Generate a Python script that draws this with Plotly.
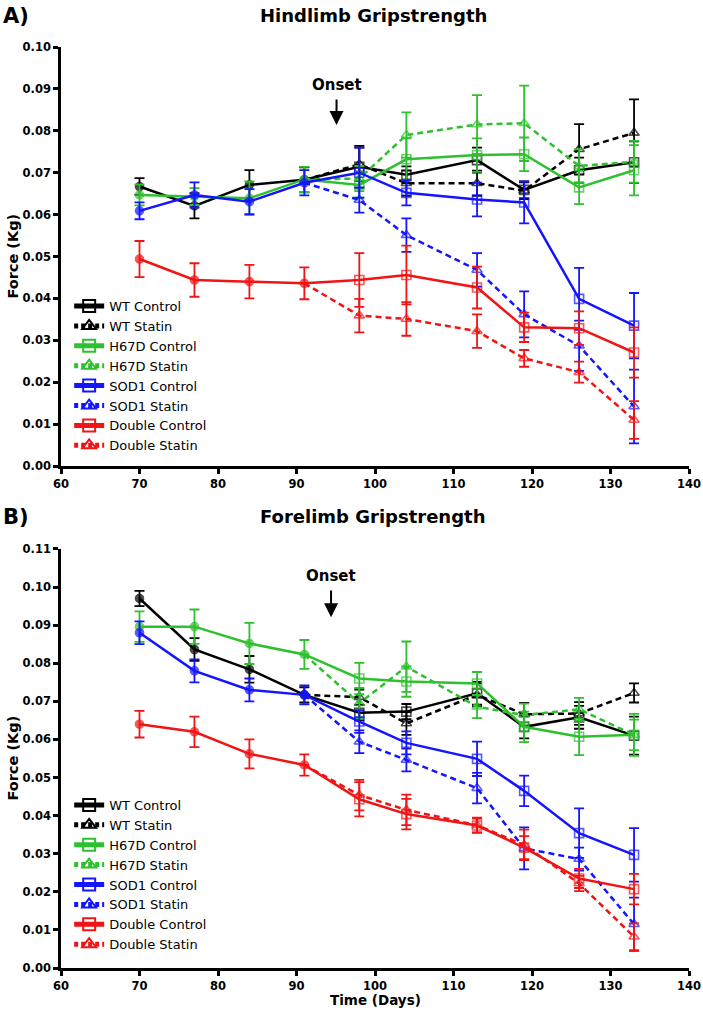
import plotly.graph_objects as go

# ---------------- data ----------------
days = [70, 77, 84, 91, 98, 104, 113, 119, 126, 133]
statin_days = [91, 98, 104, 113, 119, 126, 133]

groups = ["WT", "H67D", "SOD1", "Double"]
colors = {"WT": "#000000", "H67D": "#2ec02e", "SOD1": "#1414ff", "Double": "#f01414"}

# Hindlimb (panel A)
hind_wt_ctrl = [0.0667, 0.0621, 0.0671, 0.0683, 0.0714, 0.0695, 0.0730, 0.0659, 0.0706, 0.0725]
hind_wt_ctrl_err = [0.002, 0.003, 0.0035, 0.003, 0.005, 0.002, 0.003, 0.002, 0.003, 0.005]
hind_wt_stat = [0.0720, 0.0675, 0.0675, 0.0657, 0.0756, 0.0795]
hind_wt_stat_err = [0.004, 0.003, 0.003, 0.002, 0.006, 0.008]

hind_h67d_ctrl = [0.0647, 0.0643, 0.0639, 0.0684, 0.0671, 0.0732, 0.0742, 0.0744, 0.0665, 0.0706]
hind_h67d_ctrl_err = [0.0025, 0.002, 0.004, 0.003, 0.003, 0.005, 0.004, 0.004, 0.004, 0.006]
hind_h67d_stat = [0.0686, 0.0790, 0.0815, 0.0818, 0.0716, 0.0726]
hind_h67d_stat_err = [0.003, 0.0054, 0.007, 0.009, 0.004, 0.005]

hind_sod_ctrl = [0.0609, 0.0647, 0.0631, 0.0676, 0.0700, 0.0652, 0.0636, 0.0629, 0.0399, 0.0335]
hind_sod_ctrl_err = [0.002, 0.003, 0.003, 0.003, 0.006, 0.003, 0.004, 0.005, 0.0074, 0.0078]
hind_sod_stat = [0.0635, 0.0551, 0.0468, 0.0362, 0.0287, 0.0142]
hind_sod_stat_err = [0.003, 0.004, 0.004, 0.0055, 0.006, 0.0088]

hind_dbl_ctrl = [0.0494, 0.0444, 0.0440, 0.0436, 0.0444, 0.0456, 0.0426, 0.0331, 0.0329, 0.0271]
hind_dbl_ctrl_err = [0.0043, 0.004, 0.004, 0.0038, 0.0064, 0.007, 0.005, 0.0035, 0.004, 0.006]
hind_dbl_stat = [0.0359, 0.0351, 0.0322, 0.0257, 0.0224, 0.0110]
hind_dbl_stat_err = [0.004, 0.004, 0.004, 0.002, 0.0025, 0.0045]

# Forelimb (panel B)
fore_wt_ctrl = [0.0970, 0.0836, 0.0784, 0.0717, 0.0670, 0.0673, 0.0721, 0.0633, 0.0658, 0.0610]
fore_wt_ctrl_err = [0.002, 0.003, 0.0035, 0.002, 0.002, 0.002, 0.003, 0.003, 0.003, 0.005]
fore_wt_stat = [0.0711, 0.0642, 0.0717, 0.0666, 0.0668, 0.0722]
fore_wt_stat_err = [0.002, 0.003, 0.003, 0.003, 0.003, 0.0025]

fore_h67d_ctrl = [0.0896, 0.0896, 0.0852, 0.0823, 0.0760, 0.0752, 0.0747, 0.0633, 0.0607, 0.0612]
fore_h67d_ctrl_err = [0.004, 0.0045, 0.0054, 0.0038, 0.0041, 0.004, 0.003, 0.004, 0.0048, 0.0055]
fore_h67d_stat = [0.0695, 0.0791, 0.0686, 0.0664, 0.0679, 0.0612]
fore_h67d_stat_err = [0.004, 0.0066, 0.003, 0.003, 0.003, 0.004]

fore_sod_ctrl = [0.0880, 0.0780, 0.0730, 0.0717, 0.0647, 0.0591, 0.0549, 0.0465, 0.0354, 0.0297]
fore_sod_ctrl_err = [0.003, 0.003, 0.003, 0.0025, 0.003, 0.003, 0.0045, 0.004, 0.0065, 0.007]
fore_sod_stat = [0.0594, 0.0546, 0.0472, 0.0314, 0.0286, 0.0115]
fore_sod_stat_err = [0.003, 0.003, 0.004, 0.0055, 0.003, 0.007]

fore_dbl_ctrl = [0.0640, 0.0620, 0.0562, 0.0533, 0.0443, 0.0404, 0.0374, 0.0316, 0.0235, 0.0207]
fore_dbl_ctrl_err = [0.0035, 0.004, 0.0038, 0.0028, 0.0045, 0.004, 0.0018, 0.003, 0.0025, 0.004]
fore_dbl_stat = [0.0454, 0.0415, 0.0375, 0.0323, 0.0222, 0.0082]
fore_dbl_stat_err = [0.004, 0.004, 0.002, 0.004, 0.002, 0.0035]

hind = {
    "WT": (hind_wt_ctrl, hind_wt_ctrl_err, hind_wt_stat, hind_wt_stat_err),
    "H67D": (hind_h67d_ctrl, hind_h67d_ctrl_err, hind_h67d_stat, hind_h67d_stat_err),
    "SOD1": (hind_sod_ctrl, hind_sod_ctrl_err, hind_sod_stat, hind_sod_stat_err),
    "Double": (hind_dbl_ctrl, hind_dbl_ctrl_err, hind_dbl_stat, hind_dbl_stat_err),
}
fore = {
    "WT": (fore_wt_ctrl, fore_wt_ctrl_err, fore_wt_stat, fore_wt_stat_err),
    "H67D": (fore_h67d_ctrl, fore_h67d_ctrl_err, fore_h67d_stat, fore_h67d_stat_err),
    "SOD1": (fore_sod_ctrl, fore_sod_ctrl_err, fore_sod_stat, fore_sod_stat_err),
    "Double": (fore_dbl_ctrl, fore_dbl_ctrl_err, fore_dbl_stat, fore_dbl_stat_err),
}

# ---------------- figure ----------------
FONT = "'DejaVu Sans', sans-serif"
DASH = "6px,4px"
LW = 2.5
n_pre = 4  # points before treatment start (filled circles)

fig = go.Figure()


def add_panel(data, xa, ya, legend_name):
    for g in groups:
        c = colors[g]
        ctrl, ctrl_err, stat, stat_err = data[g]
        base = ctrl[n_pre - 1]
        # statin (dashed) starting from the baseline point at day 91
        fig.add_trace(go.Scatter(
            x=statin_days, y=[base] + stat, xaxis=xa, yaxis=ya,
            mode="lines+markers", showlegend=False,
            line=dict(color=c, width=LW, dash=DASH),
            marker=dict(symbol="triangle-up-open", size=[0] + [9] * len(stat), color=c,
                        line=dict(width=1.6, color=c)),
            error_y=dict(type="data", array=[0] + stat_err, color=c, thickness=1.8, width=5),
            hoverinfo="x+y",
        ))
        # control (solid)
        fig.add_trace(go.Scatter(
            x=days, y=ctrl, xaxis=xa, yaxis=ya,
            mode="lines+markers", showlegend=False,
            line=dict(color=c, width=LW),
            marker=dict(symbol=["circle"] * n_pre + ["square-open"] * (len(days) - n_pre),
                        size=[8] * n_pre + [9] * (len(days) - n_pre), color=c,
                        line=dict(width=1.6, color=c)),
            error_y=dict(type="data", array=ctrl_err, color=c, thickness=1.8, width=5),
            hoverinfo="x+y",
        ))
    # legend entries
    for g in groups:
        c = colors[g]
        fig.add_trace(go.Scatter(
            x=[None], y=[None], xaxis=xa, yaxis=ya, mode="lines+markers",
            name=f"{g} Control", legend=legend_name,
            line=dict(color=c, width=2.2),
            marker=dict(symbol="square-open", size=7, color=c, line=dict(width=1.5, color=c)),
        ))
        fig.add_trace(go.Scatter(
            x=[None], y=[None], xaxis=xa, yaxis=ya, mode="lines+markers",
            name=f"{g} Statin", legend=legend_name,
            line=dict(color=c, width=2.2, dash="4px,3px"),
            marker=dict(symbol="triangle-up-open", size=7, color=c, line=dict(width=1.5, color=c)),
        ))


add_panel(hind, "x", "y", "legend")
add_panel(fore, "x2", "y2", "legend2")

axis_common = dict(
    showline=True, linewidth=2.5, linecolor="black", ticks="outside", ticklen=5,
    tickwidth=2.5, tickcolor="black", showgrid=False, zeroline=False, automargin=False,
    tickfont=dict(family=FONT, size=11.5, color="black", weight="bold"),
)

legend_common = dict(
    x=0.013, xanchor="left", yanchor="top", bgcolor="rgba(0,0,0,0)",
    font=dict(family=FONT, size=13, color="black"), tracegroupgap=0,
    itemsizing="constant",
)

fig.update_layout(
    template="none",
    width=703, height=1018,
    margin=dict(l=61, r=14, t=47, b=50, autoexpand=False),
    paper_bgcolor="white", plot_bgcolor="white",
    xaxis=dict(domain=[0, 1], anchor="y", range=[60, 140], dtick=10, **axis_common),
    yaxis=dict(domain=[0.545, 1], anchor="x", range=[0, 0.10], dtick=0.01, tickformat=".2f",
               **axis_common),
    xaxis2=dict(domain=[0, 1], anchor="y2", range=[60, 140], dtick=10, **axis_common),
    yaxis2=dict(domain=[0, 0.455], anchor="x2", range=[0, 0.11], dtick=0.01, tickformat=".2f",
                **axis_common),
    legend=dict(y=0.735, **legend_common),
    legend2=dict(y=0.1933, **legend_common),
    showlegend=True,
)

bold = lambda s: dict(family=FONT, size=s, color="black", weight="bold")
ann = []
# panel letters and titles
ann.append(dict(text="A)", xref="paper", yref="paper", x=-0.0717, y=1.034,
                showarrow=False, font=bold(21), xanchor="center", yanchor="middle"))
ann.append(dict(text="Hindlimb Gripstrength", xref="paper", yref="paper", x=0.4976, y=1.034,
                showarrow=False, font=bold(18), xanchor="center", yanchor="middle"))
ann.append(dict(text="B)", xref="paper", yref="paper", x=-0.0717, y=0.4897,
                showarrow=False, font=bold(21), xanchor="center", yanchor="middle"))
ann.append(dict(text="Forelimb Gripstrength", xref="paper", yref="paper", x=0.4976, y=0.4897,
                showarrow=False, font=bold(18), xanchor="center", yanchor="middle"))
# axis titles
ann.append(dict(text="Force (Kg)", xref="paper", yref="paper", x=-0.0764, y=0.7725,
                textangle=-90, showarrow=False, font=bold(14.5), xanchor="center", yanchor="middle"))
ann.append(dict(text="Force (Kg)", xref="paper", yref="paper", x=-0.0764, y=0.2275,
                textangle=-90, showarrow=False, font=bold(14.5), xanchor="center", yanchor="middle"))
ann.append(dict(text="Time (Days)", xref="paper", yref="paper", x=0.5, y=-0.0347,
                showarrow=False, font=bold(13.5), xanchor="center", yanchor="middle"))
# onset arrows
for xa, ya, xd, tail, tip, ty in [("x", "y", 95.1, 0.0878, 0.0814, 0.0909),
                                  ("x2", "y2", 94.4, 0.0995, 0.0921, 0.1029)]:
    ann.append(dict(text="Onset", xref=xa, yref=ya, x=xd, y=ty, showarrow=False,
                    font=bold(15), xanchor="center", yanchor="middle"))
    ann.append(dict(text="", xref=xa, yref=ya, x=xd, y=tip, ax=xd, ay=tail,
                    axref=xa, ayref=ya, showarrow=True, arrowhead=2, arrowsize=1.4,
                    arrowwidth=2, arrowcolor="black"))
fig.update_layout(annotations=ann)

fig.write_html("out.html", config={"displayModeBar": False},
               post_script="document.body.style.margin='0';")
